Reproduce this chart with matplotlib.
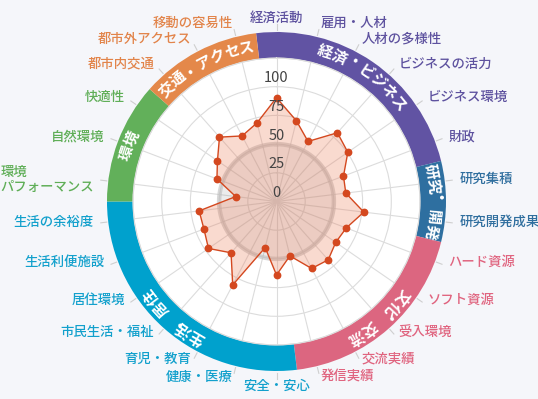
import numpy as np
import matplotlib
matplotlib.use("Agg")
import matplotlib.pyplot as plt

plt.rcParams['font.family'] = ['Noto Sans CJK JP', 'DejaVu Sans']

# 26 indicators, clockwise from the top
categories = ["経済活動", "雇用・人材", "人材の多様性", "ビジネスの活力", "ビジネス環境", "財政",
              "研究集積", "研究開発成果",
              "ハード資源", "ソフト資源", "受入環境", "交流実績", "発信実績",
              "安全・安心", "健康・医療", "育児・教育", "市民生活・福祉", "居住環境", "生活利便施設", "生活の余裕度",
              "環境\nパフォーマンス", "自然環境", "快適性",
              "都市内交通", "都市外アクセス", "移動の容易性"]
scores = [90.4, 72.4, 59.1, 80.0, 75.5, 62.4,
          60.8, 76.6,
          65.0, 62.7, 67.9, 65.9, 48.8,
          64.0, 41.3, 82.1, 59.7, 72.0, 67.6, 67.9,
          35.8, 55.5, 62.5,
          74.9, 64.5, 70.6]
average = 50

groups = ["経済・ビジネス", "研究・開発", "文化・交流", "生活・居住", "環境", "交通・アクセス"]
group_sizes = [6, 2, 5, 7, 3, 3]
group_colors = ["#6153a3", "#2e6fa0", "#dc6680", "#00a1cd", "#62b05a", "#e4884a"]
label_colors = ["#5e529f", "#2f6e9e", "#e0647f", "#12a0cc", "#5fae57", "#e2844a"]

tick_values = [0, 25, 50, 75, 100]
r_max = 125

# layout (pixels -> data units)
W, H = 538, 399
cx, cy, rad_px = 276.5, 201.5, 143.5
px = rad_px / r_max

fig = plt.figure(figsize=(W / 100, H / 100), dpi=100, facecolor="#f5f6fa")
ax = fig.add_axes([(cx - rad_px) / W, (H - cy - rad_px) / H, 2 * rad_px / W, 2 * rad_px / H],
                  projection="polar")
ax.set_theta_zero_location("N")
ax.set_theta_direction(-1)
ax.set_facecolor("white")

n = len(categories)
step = 2 * np.pi / n
angles = np.arange(n) * step

ax.set_xticks(angles)
ax.set_xticklabels([])
ax.set_yticks([25, 50, 75, 100, 125])
ax.set_yticklabels([])
ax.grid(color="#dcdcdc", lw=0.8)
ax.spines["polar"].set_color("#dcdcdc")
ax.spines["polar"].set_linewidth(0.8)

# average disc
circ = np.linspace(0, 2 * np.pi, 300)
ax.fill(circ, np.full_like(circ, average), color="#8a8a8a", alpha=0.16, lw=0, zorder=2)
ax.plot(circ, np.full_like(circ, average), color="#bdbdbd", alpha=0.6, lw=3.2, zorder=2)

# scores
th = np.append(angles, angles[0])
vals = np.append(scores, scores[0])
ax.fill(th, vals, color="#ec7a55", alpha=0.28, lw=0, zorder=3)
ax.plot(th, vals, color="#d4481f", lw=1.0, zorder=4)
ax.plot(angles, scores, "o", color="#d4481f", ms=4.6, zorder=5)

# radial tick labels, just above each ring
for v in tick_values:
    ax.annotate(str(v), xy=(0, v), xytext=(0, 6), textcoords="offset points",
                ha="center", va="center", fontsize=10.5, color="#444444", zorder=6)

# group ring
r_in, r_out = 125.2, 169.5 / px
r_mid = 157.5 / px
start = 0
for name, size, col in zip(groups, group_sizes, group_colors):
    t0 = (start - 0.5) * step
    ax.bar(t0 + size * step / 2, r_out - r_in, width=size * step, bottom=r_in,
           color=col, lw=0, clip_on=False, zorder=1)
    # characters along the arc
    mid = t0 + size * step / 2
    dch = 15.3 / 157.5
    for k, ch in enumerate(name):
        a = mid + (k - (len(name) - 1) / 2) * dch
        ax.text(a, r_mid, ch, ha="center", va="center", rotation=-np.degrees(a),
                rotation_mode="anchor", fontsize=11, fontweight="bold", color="white",
                clip_on=False, zorder=7)
    # category labels
    for i in range(start, start + size):
        a = angles[i]
        s, c = np.sin(a), np.cos(a)
        ax.plot([a, a], [171 / px, 177 / px], color="#cfcfcf", lw=0.8, clip_on=False)
        ha = "center" if abs(s) < 0.05 else ("left" if s > 0 else "right")
        dy = 7 * abs(np.sin(2 * a)) if c < 0 else 0
        ax.annotate(categories[i], xy=(a, 184 / px), xytext=(0, dy * 0.72),
                    textcoords="offset points", ha=ha, va="center", ma="left",
                    fontsize=9.6, fontweight="medium", color=label_colors[groups.index(name)],
                    linespacing=1.05, annotation_clip=False)
    start += size

ax.set_ylim(0, r_max)

fig.savefig("out.png", dpi=100, facecolor=fig.get_facecolor())
